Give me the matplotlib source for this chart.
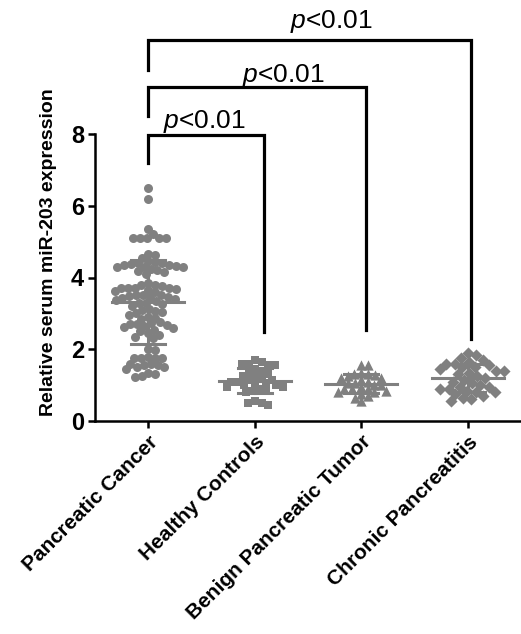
import numpy as np
import matplotlib
matplotlib.use("Agg")
import matplotlib.pyplot as plt

plt.rcParams["font.family"] = ["Liberation Sans", "DejaVu Sans"]
plt.rcParams["mathtext.fontset"] = "custom"
plt.rcParams["mathtext.it"] = "Liberation Sans:italic"
plt.rcParams["mathtext.rm"] = "Liberation Sans"

categories = ["Pancreatic Cancer", "Healthy Controls",
              "Benign Pancreatic Tumor", "Chronic Pancreatitis"]

pancreatic_cancer = [
    6.5, 6.2, 5.35, 5.2, 5.1, 5.1, 5.1, 5.1, 5.1,
    4.65, 4.62, 4.55,
    4.45, 4.42, 4.4, 4.4, 4.38, 4.36, 4.35, 4.33, 4.3, 4.3, 4.28, 4.25,
    4.2, 4.18, 4.15, 4.1,
    3.85, 3.8, 3.8,
    3.75, 3.72, 3.72, 3.7, 3.7, 3.68, 3.65, 3.62, 3.6,
    3.52, 3.5, 3.5, 3.48, 3.46, 3.45, 3.42, 3.4, 3.38, 3.35,
    3.3, 3.28, 3.25, 3.2,
    3.12, 3.1, 3.08, 3.05, 3.0,
    2.95, 2.9, 2.88, 2.85,
    2.75, 2.72, 2.7, 2.7, 2.68, 2.65, 2.62, 2.6, 2.55,
    2.5, 2.45, 2.4, 2.35, 2.3,
    2.0, 1.98,
    1.78, 1.77, 1.76, 1.76, 1.75,
    1.6, 1.6, 1.55, 1.55, 1.5, 1.5, 1.45,
    1.35, 1.3, 1.25, 1.22,
]
healthy_controls = [
    1.7, 1.65, 1.6, 1.58, 1.55, 1.55, 1.45, 1.4, 1.35, 1.3, 1.25, 1.25,
    1.2, 1.15, 1.15, 1.1, 1.1, 1.05, 1.05, 1.0, 1.0, 0.95, 0.95, 0.9,
    0.85, 0.85, 0.8, 0.55, 0.5, 0.5, 0.45,
]
benign_tumor = [
    1.55, 1.55, 1.35, 1.3, 1.3, 1.28, 1.25, 1.2, 1.2, 1.15, 1.1, 1.05,
    1.05, 1.0, 1.0, 0.95, 0.9, 0.9, 0.88, 0.85, 0.8, 0.8, 0.75, 0.7,
    0.65, 0.55,
]
chronic_pancreatitis = [
    1.9, 1.85, 1.75, 1.7, 1.65, 1.6, 1.6, 1.55, 1.5, 1.5, 1.45, 1.4,
    1.4, 1.35, 1.3, 1.25, 1.2, 1.15, 1.1, 1.05, 1.0, 0.95, 0.95, 0.9,
    0.9, 0.85, 0.8, 0.8, 0.75, 0.7, 0.65, 0.6, 0.55,
]
groups = [pancreatic_cancer, healthy_controls, benign_tumor, chronic_pancreatitis]
markers = ["o", "s", "^", "D"]
sizes = [42, 40, 55, 38]
spacing = [7.0, 7.0, 7.0, 8.5]
p_labels = ["p<0.01", "p<0.01", "p<0.01"]

GRAY = "#808080"


def swarm(vals, px_per_y, px_per_x, d=7.0):
    # simple beeswarm: offsets in data-x units
    ys = np.asarray(vals) * px_per_y
    order = np.argsort(-ys)
    placed = []
    out = np.zeros(len(ys))
    for i in order:
        y = ys[i]
        cands = [0.0]
        for (px, py) in placed:
            dy = y - py
            if abs(dy) < d:
                dx = np.sqrt(d * d - dy * dy)
                cands += [px + dx, px - dx]
        cands.sort(key=abs)
        for c in cands:
            if all((c - px) ** 2 + (y - py) ** 2 >= d * d - 1e-6 for px, py in placed):
                break
        placed.append((c, y))
        out[i] = c / px_per_x
    return out


fig = plt.figure(figsize=(5.21, 6.34), dpi=100, facecolor="white")
ax = fig.add_axes([95 / 521, 213 / 634, 426 / 521, 287 / 634])
ax.set_xlim(-0.5, 3.5)
ax.set_ylim(0, 8)

px_y = 287 / 8
px_x = 426 / 4
for i, (vals, mk, sz, d) in enumerate(zip(groups, markers, sizes, spacing)):
    off = swarm(vals, px_y, px_x, d)
    ax.scatter(i + off, vals, marker=mk, s=sz, color=GRAY, linewidths=0,
               zorder=3, clip_on=False)
    m = np.mean(vals); sd = np.std(vals, ddof=1)
    ax.plot([i - 0.34, i + 0.34], [m, m], color=GRAY, lw=2.2, zorder=4)
    ax.plot([i, i], [m - sd, m + sd], color=GRAY, lw=2.2, zorder=4)
    for yy in (m - sd, m + sd):
        ax.plot([i - 0.16, i + 0.16], [yy, yy], color=GRAY, lw=2.2, zorder=4)

# significance brackets (drawn above the axes)
brackets = [
    # (x_right, y_top, y_left_end, y_right_end, text_x, text_y)
    (1.09, 7.97, 7.19, 2.48, 0.53, 8.16),
    (2.04, 9.30, 8.50, 2.53, 1.27, 9.44),
    (3.03, 10.61, 9.78, 2.28, 1.72, 10.95),
]
for (xr, yt, yl, yr, tx, ty), lab in zip(brackets, p_labels):
    ax.plot([0, 0, xr, xr], [yl, yt, yt, yr], color="black", lw=2.3,
            solid_joinstyle="miter", clip_on=False, zorder=5)
    ax.text(tx, ty, r"$\it{p}$" + lab[1:], ha="center", va="baseline",
            fontsize=19, clip_on=False)

ax.set_xticks(range(len(categories)))
ax.set_xticklabels(categories, rotation=45, ha="right", rotation_mode="anchor",
                   fontsize=15, fontweight="bold")
ax.set_yticks([0, 2, 4, 6, 8])
ax.set_yticklabels(["0", "2", "4", "6", "8"], fontsize=17, fontweight="bold")
ax.set_ylabel("Relative serum miR-203 expression", fontsize=14,
              fontweight="bold")
ax.yaxis.set_label_coords(-0.09, 0.59)

for s in ("top", "right"):
    ax.spines[s].set_visible(False)
for s in ("left", "bottom"):
    ax.spines[s].set_linewidth(1.8)
ax.tick_params(axis="both", width=1.8, length=5, direction="out", pad=3)

fig.savefig("out.png", dpi=100)
